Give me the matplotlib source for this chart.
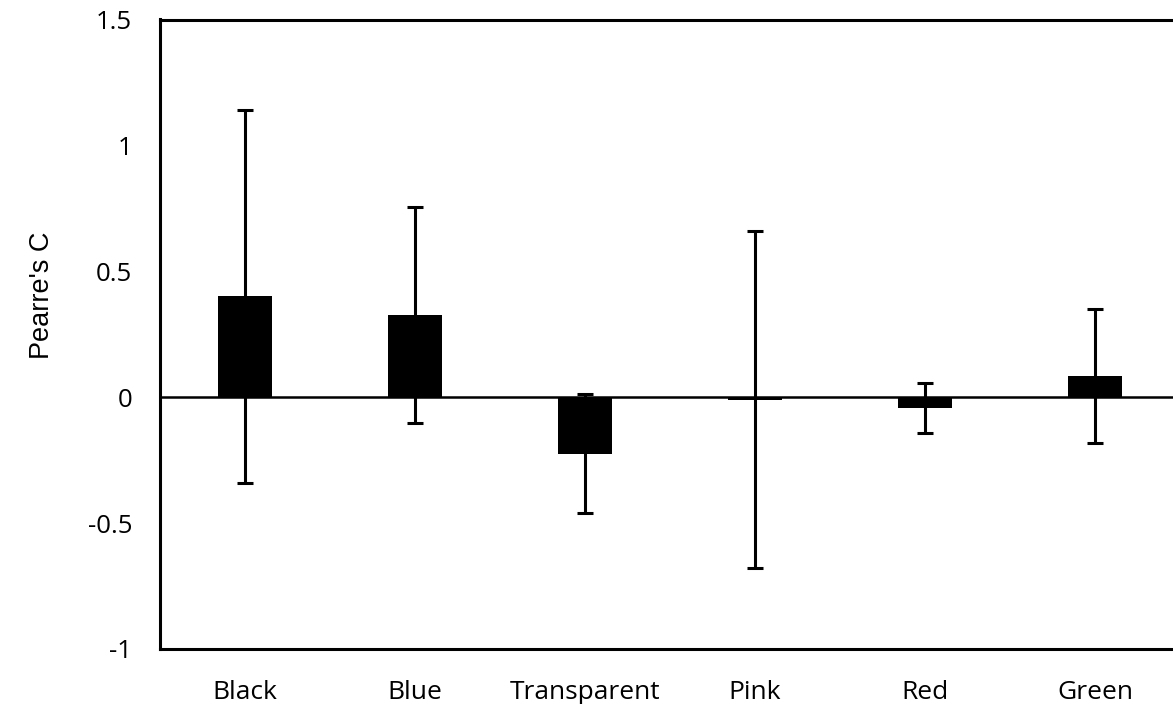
import numpy as np
import matplotlib.pyplot as plt

# data
categories = ['Black', 'Blue', 'Transparent', 'Pink', 'Red', 'Green']
pearre_c = [0.40, 0.326, -0.224, -0.01, -0.044, 0.083]
errors = [0.74, 0.43, 0.235, 0.67, 0.10, 0.266]
yticks = [-1, -0.5, 0, 0.5, 1, 1.5]
yticklabels = ['-1', '-0.5', '0', '0.5', '1', '1.5']

fig = plt.figure(figsize=(11.73, 7.04), dpi=100)
ax = fig.add_axes([160/1173, 55/704, 1020/1173, 629.5/704])

x = np.arange(len(categories))
ax.bar(x, pearre_c, width=0.32, color='black', zorder=2)
ax.errorbar(x, pearre_c, yerr=errors, fmt='none', ecolor='black',
            elinewidth=2.2, capsize=5.5, capthick=2.2, zorder=3)
ax.axhline(0, color='black', linewidth=1.8, zorder=1)

ax.set_xlim(-0.5, 5.5)
ax.set_ylim(-1, 1.5)
ax.set_yticks(yticks)
ax.set_yticklabels(yticklabels, fontsize=18.5, family='Open Sans')
ax.set_xticks(x)
ax.set_xticklabels(categories, fontsize=19, family='Open Sans')
ax.tick_params(axis='y', length=0, pad=20)
ax.tick_params(axis='x', length=0, pad=22)

for s in ax.spines.values():
    s.set_linewidth(2.2)

ax.set_ylabel("Pearre's C", fontsize=19.5, family='Liberation Sans')
ax.yaxis.set_label_coords(-0.103, 0.562)

fig.savefig('out.png', dpi=100)
